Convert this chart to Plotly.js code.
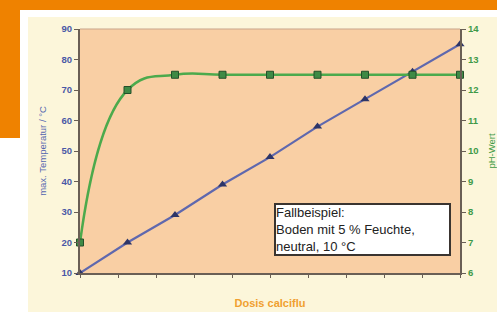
<!DOCTYPE html>
<html><head><meta charset="utf-8">
<script src="https://cdn.plot.ly/plotly-3.0.1.min.js"></script>
<style>
html,body{margin:0;padding:0;background:#fff;width:497px;height:312px;overflow:hidden;position:relative;}
#top{position:absolute;left:0;top:0;width:497px;height:10px;background:#ef8200;}
#left{position:absolute;left:0;top:0;width:20px;height:138px;background:#ef8200;}
#cream{position:absolute;left:28px;top:17px;width:469px;height:295px;background:#fcf6da;}
#chart{position:absolute;left:0;top:0;width:497px;height:312px;}
</style></head><body>
<div id="top"></div><div id="left"></div><div id="cream"></div>
<div id="chart"></div>
<script>
const dosis = [0,1,2,3,4,5,6,7,8];
const temperatur = [10,20,29,39,48,58,67,76,85];
const phWert = [7,12,12.5,12.5,12.5,12.5,12.5,12.5,12.5];
const annotText = "Fallbeispiel:<br>Boden mit 5 % Feuchte,<br>neutral, 10 °C";

const traces = [
 {x:dosis,y:phWert,yaxis:'y2',type:'scatter',mode:'lines+markers',
  line:{color:'#4caa4c',width:2.5,shape:'spline',smoothing:1.3},
  marker:{symbol:'square',size:7,color:'#3f8a45',line:{color:'#24502a',width:1}},cliponaxis:false},
 {x:dosis,y:temperatur,type:'scatter',mode:'lines+markers',
  line:{color:'#5f68ae',width:2.2},
  marker:{symbol:'triangle-up',size:8,color:'#2d3568'},cliponaxis:false}
];
const layout = {
 width:497,height:312,
 margin:{l:80,r:37,t:29,b:39,pad:0},
 paper_bgcolor:'rgba(0,0,0,0)',plot_bgcolor:'#f9cfa4',
 showlegend:false,
 font:{family:'Arial, Liberation Sans, sans-serif'},
 xaxis:{range:[0,8],dtick:0.8,tick0:0,showticklabels:false,ticks:'outside',ticklen:3,tickcolor:'#6a5f55',
   showgrid:false,zeroline:false,showline:true,linecolor:'#6a5f55',linewidth:2,mirror:false,
   title:{text:'Dosis calciflu',font:{size:11,color:'#f0a030',weight:'bold'},standoff:22}},
 yaxis:{range:[10,90],dtick:10,ticks:'outside',ticklen:4,tickcolor:'#6a5f55',showgrid:false,zeroline:false,
   showline:true,linecolor:'#6a5f55',linewidth:2,
   tickfont:{size:9.5,color:'#4a58a6',weight:'bold'},
   title:{text:'max. Temperatur / °C',font:{size:9.5,color:'#5566b0'},standoff:13}},
 yaxis2:{range:[6,14],dtick:1,overlaying:'y',side:'right',ticks:'outside',ticklen:4,tickcolor:'#6a5f55',
   showgrid:false,zeroline:false,showline:true,linecolor:'#6a5f55',linewidth:2,
   tickfont:{size:9.5,color:'#3e9a48',weight:'bold'},
   title:{text:'pH-Wert',font:{size:9.5,color:'#3e9a48'},standoff:13}},
 shapes:[{type:'line',xref:'paper',yref:'paper',x0:0,x1:1,y0:1,y1:1,line:{color:'#c9a58a',width:1}}],
 annotations:[{xref:'paper',yref:'paper',x:0.51,y:0.287,xanchor:'left',yanchor:'top',
   text:annotText,showarrow:false,align:'left',valign:'top',bgcolor:'#ffffff',bordercolor:'#3a3430',borderwidth:2,
   borderpad:0,width:173,height:49,font:{size:13,color:'#222'}}]
};
Plotly.newPlot('chart',traces,layout,{displayModeBar:false,staticPlot:true});
</script></body></html>
